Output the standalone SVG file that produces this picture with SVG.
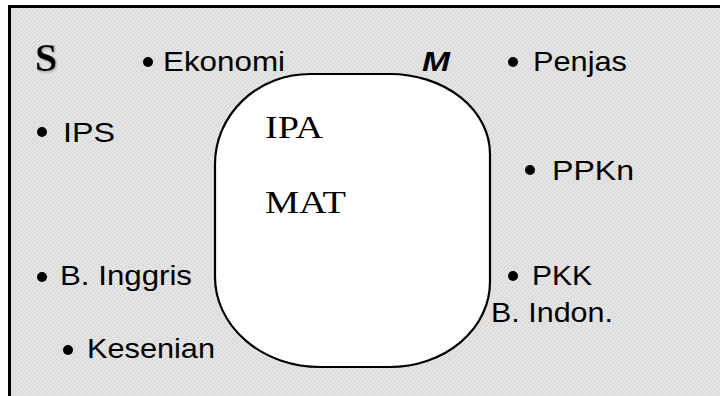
<svg xmlns="http://www.w3.org/2000/svg" width="720" height="396" viewBox="0 0 720 396">
<defs>
<pattern id="tex" width="4" height="4" patternUnits="userSpaceOnUse">
<rect width="4" height="4" fill="#e4e4e4"/>
<path d="M0 4 L4 0" stroke="#d6d6d6" stroke-width="1"/>
</pattern>
<filter id="sh" x="-20%" y="-20%" width="150%" height="150%">
<feGaussianBlur in="SourceAlpha" stdDeviation="0.8"/>
<feOffset dx="1" dy="1" result="b"/>
<feFlood flood-color="#999"/>
<feComposite in2="b" operator="in"/>
<feMerge><feMergeNode/><feMergeNode in="SourceGraphic"/></feMerge>
</filter>
</defs>
<style>
.lbl{font-family:"Liberation Sans",Arial,sans-serif;font-size:28px;fill:#000}
.ser{font-family:"Liberation Serif","Times New Roman",serif;font-size:31px;fill:#000}
.big{font-family:"Liberation Serif","Times New Roman",serif;font-size:40px;font-weight:bold;font-style:normal;fill:#000}
.mi{font-family:"Liberation Sans",Arial,sans-serif;font-size:28px;font-weight:bold;font-style:italic;fill:#000}
.dot{fill:#000}
</style>
<rect width="720" height="396" fill="#fff"/>
<g id="universe">
<rect x="9.5" y="6.5" width="730" height="410" fill="url(#tex)" stroke="#000" stroke-width="3"/>
<text class="big" x="35" y="71" filter="url(#sh)">S</text>
</g>
<g id="set-M">
<path d="M310 74 H390 A100 80 0 0 1 490 154 V282 A100 85 0 0 1 390 367 H320 A105 90 0 0 1 215 277 V164 A95 90 0 0 1 310 74 Z" fill="#fff" stroke="#000" stroke-width="2.2"/>
<text class="mi" x="422" y="71" textLength="28" lengthAdjust="spacingAndGlyphs">M</text>
<text class="ser" x="265" y="138" textLength="58" lengthAdjust="spacingAndGlyphs">IPA</text>
<text class="ser" x="265" y="213" textLength="81" lengthAdjust="spacingAndGlyphs">MAT</text>
</g>
<g id="item-ekonomi"><circle class="dot" cx="148" cy="62" r="5"/><text class="lbl" x="163" y="71" textLength="122" lengthAdjust="spacingAndGlyphs">Ekonomi</text></g>
<g id="item-penjas"><circle class="dot" cx="513" cy="62" r="5"/><text class="lbl" x="533" y="71" textLength="94" lengthAdjust="spacingAndGlyphs">Penjas</text></g>
<g id="item-ips"><circle class="dot" cx="42" cy="132" r="5"/><text class="lbl" x="63" y="142" textLength="52" lengthAdjust="spacingAndGlyphs">IPS</text></g>
<g id="item-ppkn"><circle class="dot" cx="530" cy="170" r="5"/><text class="lbl" x="552" y="180" textLength="82" lengthAdjust="spacingAndGlyphs">PPKn</text></g>
<g id="item-binggris"><circle class="dot" cx="42" cy="277" r="5"/><text class="lbl" x="60" y="285" textLength="132" lengthAdjust="spacingAndGlyphs">B. Inggris</text></g>
<g id="item-kesenian"><circle class="dot" cx="68" cy="350" r="5"/><text class="lbl" x="87" y="358" textLength="128" lengthAdjust="spacingAndGlyphs">Kesenian</text></g>
<g id="item-pkk"><circle class="dot" cx="513" cy="276" r="5"/><text class="lbl" x="532" y="285" textLength="60" lengthAdjust="spacingAndGlyphs">PKK</text></g>
<g id="item-bindon"><text class="lbl" x="491" y="322" textLength="122" lengthAdjust="spacingAndGlyphs">B. Indon.</text></g>
<g id="connectors"/>
</svg>
